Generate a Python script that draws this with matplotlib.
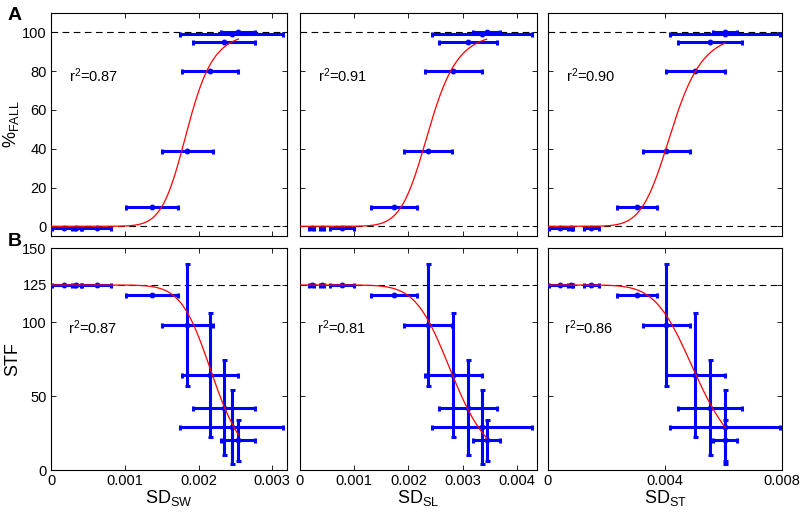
import numpy as np
import matplotlib
matplotlib.use("Agg")
import matplotlib.pyplot as plt

plt.rcParams['font.family'] = ['Liberation Sans', 'DejaVu Sans']
plt.rcParams['mathtext.default'] = 'regular'

# ---- data ----
fall_pct = [-1, -1, -1, 10, 39, 80, 95, 99, 100]
stf = [125, 125, 125, 118, 98, 64, 42, 29, 20]
stf_err = [0, 0, 0, 0, 41, 42, 32, 25, 14]

sw_mean = [0.00017, 0.00034, 0.00062, 0.00137, 0.00185, 0.00216, 0.00234, 0.00245, 0.00254]
sw_err = [0.00016, 0.00006, 0.00020, 0.00035, 0.00035, 0.00038, 0.00042, 0.00070, 0.00023]

sl_mean = [0.000215, 0.00041, 0.00077, 0.00173, 0.00236, 0.00283, 0.00310, 0.00335, 0.00344]
sl_err = [0.00004, 0.00004, 0.00022, 0.00043, 0.00044, 0.00052, 0.00054, 0.00092, 0.00025]

st_mean = [0.00042, 0.00077, 0.00148, 0.00303, 0.00405, 0.00504, 0.00553, 0.00605, 0.00605]
st_err = [0.00040, 0.00010, 0.00026, 0.00068, 0.00080, 0.00100, 0.00110, 0.00188, 0.00040]

xlabels = ['SD$_{SW}$', 'SD$_{SL}$', 'SD$_{ST}$']
xlims = [0.0032, 0.00437, 0.008]
xticks = [[0, 0.001, 0.002, 0.003], [0, 0.001, 0.002, 0.003, 0.004], [0, 0.004, 0.008]]
xticklabels = [['0', '0.001', '0.002', '0.003'], ['0', '0.001', '0.002', '0.003', '0.004'],
               ['0', '0.004', '0.008']]
r2_fall = ['0.87', '0.91', '0.90']
r2_stf = ['0.87', '0.81', '0.86']
# fitted Hill-curve parameters (midpoint, steepness)
fall_fit_mid = [0.00185, 0.00238, 0.00424]
fall_fit_n = [10.5, 9.0, 8.0]
stf_fit_mid = [0.00220, 0.00283, 0.00510]
stf_fit_n = [10.0, 8.0, 7.0]
stf_max = 125

means = [sw_mean, sl_mean, st_mean]
errs = [sw_err, sl_err, st_err]

fig = plt.figure(figsize=(8.0, 5.15), dpi=100)
lefts = [51 / 800, 300 / 800, 548 / 800]
widths = [236 / 800, 237 / 800, 234 / 800]
top_rect = (1 - 236 / 515, 223 / 515)
bot_rect = (1 - 470 / 515, 222 / 515)

blue = '#0000ff'
ebkw = dict(fmt='o', color=blue, ecolor=blue, ms=3.2, elinewidth=2.2, capsize=1.8,
            capthick=2.2, zorder=3)
dash = (0, (6, 4))


def style(ax):
    ax.tick_params(direction='in', top=True, right=True, length=3.5, width=0.6,
                   labelsize=10.5, pad=3)
    for s in ax.spines.values():
        s.set_linewidth(0.8)


for i in range(3):
    x = np.array(means[i])
    xe = np.array(errs[i])
    xc = np.linspace(0, x.max(), 300)

    # top row: % fall
    ax = fig.add_axes([lefts[i], top_rect[0], widths[i], top_rect[1]])
    ax.axhline(0, color='k', ls=dash, lw=0.8, zorder=1)
    ax.axhline(100, color='k', ls=dash, lw=0.8, zorder=1)
    ax.errorbar(x, fall_pct, xerr=xe, **ebkw)
    fc = 100 * xc ** fall_fit_n[i] / (xc ** fall_fit_n[i] + fall_fit_mid[i] ** fall_fit_n[i])
    ax.plot(xc, fc, color='red', lw=0.9, zorder=4)
    ax.set_xlim(0, xlims[i])
    ax.set_ylim(-5, 110)
    ax.set_xticks(xticks[i])
    ax.set_xticklabels([])
    ax.set_yticks([0, 20, 40, 60, 80, 100])
    if i == 0:
        ax.set_ylabel('%$_{FALL}$', fontsize=13, labelpad=1)
    else:
        ax.set_yticklabels([])
    ax.text(0.075, 0.72, 'r$^{2}$=' + r2_fall[i], transform=ax.transAxes, fontsize=10.5,
            va='center', ha='left')
    style(ax)

    # bottom row: STF
    ax = fig.add_axes([lefts[i], bot_rect[0], widths[i], bot_rect[1]])
    ax.axhline(stf_max, color='k', ls=dash, lw=0.8, zorder=1)
    ax.errorbar(x, stf, xerr=xe, yerr=stf_err, **ebkw)
    sc = stf_max * (1 - xc ** stf_fit_n[i] / (xc ** stf_fit_n[i] + stf_fit_mid[i] ** stf_fit_n[i]))
    ax.plot(xc, sc, color='red', lw=0.9, zorder=4)
    ax.set_xlim(0, xlims[i])
    ax.set_ylim(0, 150)
    ax.set_xticks(xticks[i])
    ax.set_xticklabels(xticklabels[i])
    ax.set_yticks([0, 50, 100, 125, 150])
    if i == 0:
        ax.set_ylabel('STF', fontsize=13, labelpad=1)
    else:
        ax.set_yticklabels([])
    ax.set_xlabel(xlabels[i], fontsize=13, labelpad=0)
    ax.text(0.07, 0.64, 'r$^{2}$=' + r2_stf[i], transform=ax.transAxes, fontsize=10.5,
            va='center', ha='left')
    style(ax)

fig.text(8 / 800, 1 - 16 / 515, 'A', fontsize=14, fontweight='bold', va='center', ha='left')
fig.text(8 / 800, 1 - 242 / 515, 'B', fontsize=14, fontweight='bold', va='center', ha='left')

fig.savefig('out.png', dpi=100)
